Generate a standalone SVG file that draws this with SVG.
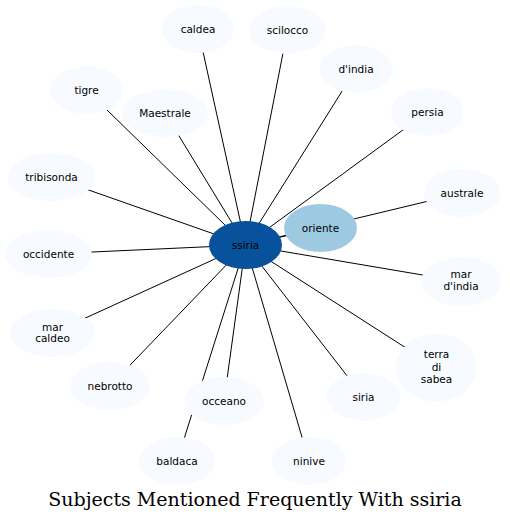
<svg xmlns="http://www.w3.org/2000/svg" width="510" height="521" viewBox="0 0 510 521">
<style>
.e{stroke:#000;stroke-width:1;fill:none}
.n{fill:#f7fbff}
.t{font-family:"DejaVu Sans",sans-serif;font-size:10.5px;text-anchor:middle;fill:#000}
.title{font-family:"DejaVu Serif",serif;font-size:19px;text-anchor:middle;fill:#000}
</style>
<rect width="510" height="521" fill="#fff"/>
<g id="edges">
<line class="e" x1="245.5" y1="245" x2="198" y2="29"/>
<line class="e" x1="245.5" y1="245" x2="287.5" y2="30"/>
<line class="e" x1="245.5" y1="245" x2="356" y2="69"/>
<line class="e" x1="245.5" y1="245" x2="427.5" y2="112"/>
<line class="e" x1="245.5" y1="245" x2="86.5" y2="90"/>
<line class="e" x1="245.5" y1="245" x2="165" y2="113"/>
<line class="e" x1="245.5" y1="245" x2="51.5" y2="177"/>
<line class="e" x1="245.5" y1="245" x2="320.5" y2="228"/>
<line class="e" x1="245.5" y1="245" x2="462" y2="193"/>
<line class="e" x1="245.5" y1="245" x2="48.5" y2="254"/>
<line class="e" x1="245.5" y1="245" x2="461" y2="281.5"/>
<line class="e" x1="245.5" y1="245" x2="52.5" y2="333"/>
<line class="e" x1="245.5" y1="245" x2="436.5" y2="367.5"/>
<line class="e" x1="245.5" y1="245" x2="110" y2="386"/>
<line class="e" x1="245.5" y1="245" x2="363.5" y2="397"/>
<line class="e" x1="245.5" y1="245" x2="224" y2="401"/>
<line class="e" x1="245.5" y1="245" x2="177" y2="461"/>
<line class="e" x1="245.5" y1="245" x2="309" y2="461"/>
</g>
<g id="caldea"><ellipse class="n" cx="198" cy="29" rx="36" ry="24"/><text class="t" x="198" y="32.5">caldea</text></g>
<g id="scilocco"><ellipse class="n" cx="287.5" cy="30" rx="38.5" ry="24"/><text class="t" x="287.5" y="33.5">scilocco</text></g>
<g id="dindia"><ellipse class="n" cx="356" cy="69" rx="36" ry="24"/><text class="t" x="356" y="72.5">d'india</text></g>
<g id="persia"><ellipse class="n" cx="427.5" cy="112" rx="36.5" ry="24"/><text class="t" x="427.5" y="115.5">persia</text></g>
<g id="tigre"><ellipse class="n" cx="86.5" cy="90" rx="36.5" ry="24"/><text class="t" x="86.5" y="93.5">tigre</text></g>
<g id="maestrale"><ellipse class="n" cx="165" cy="113" rx="43" ry="24"/><text class="t" x="165" y="116.5">Maestrale</text></g>
<g id="tribisonda"><ellipse class="n" cx="51.5" cy="177" rx="44" ry="24"/><text class="t" x="51.5" y="180.5">tribisonda</text></g>
<g id="australe"><ellipse class="n" cx="462" cy="193" rx="38" ry="24"/><text class="t" x="462" y="196.5">australe</text></g>
<g id="occidente"><ellipse class="n" cx="48.5" cy="254" rx="43.5" ry="24"/><text class="t" x="48.5" y="257.5">occidente</text></g>
<g id="mardindia"><ellipse class="n" cx="461" cy="281.5" rx="40" ry="24.5"/><text class="t" x="461" y="278">mar</text><text class="t" x="461" y="290">d'india</text></g>
<g id="marcaldeo"><ellipse class="n" cx="52.5" cy="333" rx="42.5" ry="24"/><text class="t" x="52.5" y="330.5">mar</text><text class="t" x="52.5" y="342">caldeo</text></g>
<g id="terradisabea"><ellipse class="n" cx="436.5" cy="367.5" rx="40.5" ry="34"/><text class="t" x="436.5" y="358">terra</text><text class="t" x="436.5" y="371">di</text><text class="t" x="436.5" y="383">sabea</text></g>
<g id="nebrotto"><ellipse class="n" cx="110" cy="386" rx="40" ry="24"/><text class="t" x="110" y="389.5">nebrotto</text></g>
<g id="siria"><ellipse class="n" cx="363.5" cy="397" rx="36.5" ry="24"/><text class="t" x="363.5" y="400.5">siria</text></g>
<g id="occeano"><ellipse class="n" cx="224" cy="401" rx="40" ry="24"/><text class="t" x="224" y="404.5">occeano</text></g>
<g id="baldaca"><ellipse class="n" cx="177" cy="461" rx="38" ry="24"/><text class="t" x="177" y="464.5">baldaca</text></g>
<g id="ninive"><ellipse class="n" cx="309" cy="461" rx="37" ry="24"/><text class="t" x="309" y="464.5">ninive</text></g>
<g id="oriente"><ellipse cx="320.5" cy="228" rx="36.5" ry="24" fill="#9ecae1"/><text class="t" x="320.5" y="231.5">oriente</text></g>
<g id="ssiria"><ellipse cx="245.5" cy="245" rx="36.5" ry="24" fill="#08519c"/><text class="t" x="245.5" y="248.5">ssiria</text></g>
<text class="title" x="255" y="506">Subjects Mentioned Frequently With ssiria</text>
</svg>
